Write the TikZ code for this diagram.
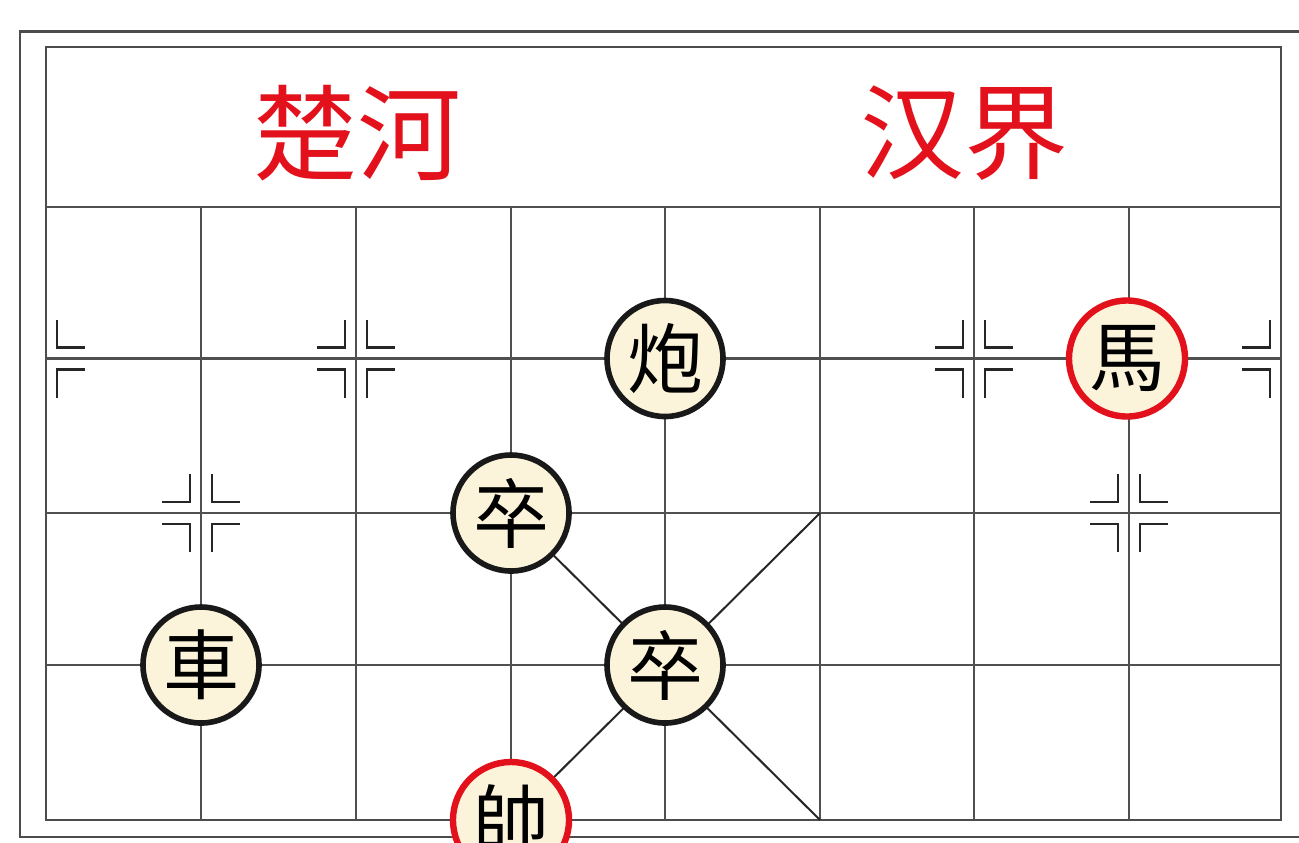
\documentclass[tikz,border=0pt]{standalone}
\usepackage{fontspec}
\newfontfamily\cjk{Noto Sans CJK SC}
\definecolor{cream}{HTML}{FBF4DA}
\definecolor{jred}{HTML}{E3111B}
\definecolor{gridc}{HTML}{505050}
\tikzset{
  gridline/.style={draw=gridc, line width=1.2pt},
  frame/.style={draw=black!70, line width=1.4pt},
  mkline/.style={draw=black!85, line width=1.1pt},
  piece/.style={circle, draw=black!90, fill=cream, line width=2.8pt, minimum size=58pt, inner sep=0pt, font=\cjk\fontsize{38pt}{38pt}\selectfont, text=black},
  redpiece/.style={piece, draw=jred, line width=3.2pt},
  title/.style={font=\cjk\fontsize{52pt}{52pt}\selectfont, text=jred, inner sep=0pt},
  mkr/.pic={\draw[mkline] (11,-39) -- (11,-11) -- (39,-11); \draw[mkline] (11,39) -- (11,11) -- (39,11);},
  mkl/.pic={\draw[mkline] (-11,-39) -- (-11,-11) -- (-39,-11); \draw[mkline] (-11,39) -- (-11,11) -- (-39,11);},
}
\begin{document}
\begin{tikzpicture}[x=0.5pt,y=-0.5pt]
\useasboundingbox (0,0) rectangle (1299,842);
\clip (0,0) rectangle (1299,842);
\fill[white] (0,0) rectangle (1299,842);
% outer frame
\draw[frame, line width=1.1pt] (20,31.5) rectangle (1320,837);
% inner frame
\draw[frame] (46,47) rectangle (1281,820);
% horizontal lines
\foreach \y in {207,358.5,513,665} {\draw[gridline] (46,\y) -- (1281,\y);}
% vertical lines
\foreach \x in {201,356,511,665,820,974,1129} {\draw[gridline] (\x,207) -- (\x,820);}
% palace diagonals
\coordinate (pa) at (511,513);
\coordinate (pb) at (820,820);
\coordinate (pc) at (820,513);
\coordinate (pd) at (511,820);
\draw[draw=black!85, line width=1pt] (pa) -- (pb);
\draw[draw=black!85, line width=1pt] (pc) -- (pd);
% markers
\pic at (46,358.5) {mkr};
\pic at (356,358.5) {mkr}; \pic at (356,358.5) {mkl};
\pic at (201,513) {mkr}; \pic at (201,513) {mkl};
\pic at (974,358.5) {mkr}; \pic at (974,358.5) {mkl};
\pic at (1129,513) {mkr}; \pic at (1129,513) {mkl};
\pic at (1281,358.5) {mkl};
% titles
\node[title] (chu) at (357,133) {楚河};
\node[title] (han) at (964,133) {汉界};
% pieces
\node[piece] (pao) at (665,358.5) {炮};
\node[redpiece] (ma) at (1127,358.5) {馬};
\node[piece] (zu1) at (511,513) {卒};
\node[piece] (zu2) at (665,665) {卒};
\node[piece] (che) at (201,665) {車};
\node[redpiece] (shuai) at (511,820) {帥};
\end{tikzpicture}
\end{document}
